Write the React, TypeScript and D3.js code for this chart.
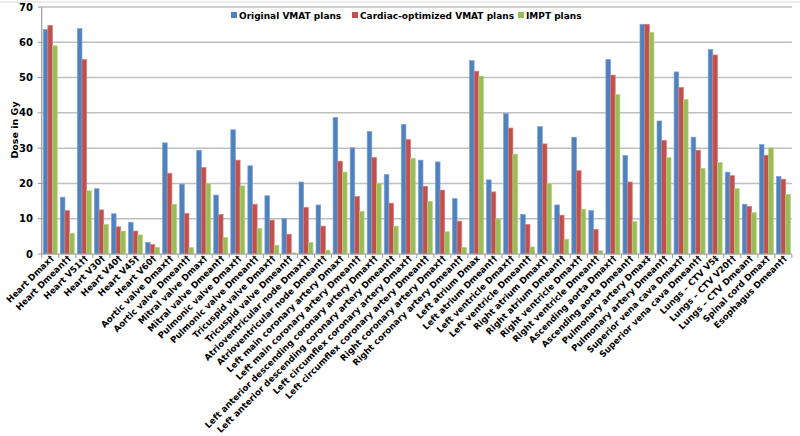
import React from "react";
import * as d3 from "d3";

const categories: string[] = [
  "Heart Dmax†", "Heart Dmean††", "Heart V51††", "Heart V30†", "Heart V40†", "Heart V45†", "Heart V60†",
  "Aortic valve Dmax††", "Aortic valve Dmean††", "Mitral valve Dmax†", "Mitral valve Dmean††",
  "Pulmonic valve Dmax††", "Pulmonic valve Dmean††", "Tricuspid valve Dmax††", "Tricuspid valve Dmean††",
  "Atrioventricular node Dmax††", "Atrioventricular node Dmean††",
  "Left main coronary artery Dmax†", "Left main coronary artery Dmean††",
  "Left anterior descending coronary artery Dmax††", "Left anterior descending coronary artery Dmean††",
  "Left circumflex coronary artery Dmax††", "Left circumflex coronary artery Dmean††",
  "Right coronary artery Dmax††", "Right coronary artery Dmean††",
  "Left atrium Dmax", "Left atrium Dmean††", "Left ventricle Dmax††", "Left ventricle Dmean††",
  "Right atrium Dmax††", "Right atrium Dmean††", "Right ventricle Dmax††", "Right ventricle Dmean††",
  "Ascending aorta Dmax††", "Ascending aorta Dmean††", "Pulmonary artery Dmax‡", "Pulmonary artery Dmean††",
  "Superior vena cava Dmax††", "Superior vena cava Dmean††",
  "Lungs – CTV V5‡", "Lungs – CTV V20††", "Lungs – CTV Dmean†", "Spinal cord Dmax†", "Esophagus Dmean††",
];

const originalVMAT: number[] = [
  63.6, 16.1, 63.9, 18.5, 11.4, 9.0, 3.3,
  31.5, 19.8, 29.4, 16.7,
  35.2, 25.0, 16.5, 10.1,
  20.4, 13.9,
  38.7, 30.1,
  34.7, 22.5,
  36.7, 26.6,
  26.1, 15.7,
  54.8, 21.0, 39.8, 11.2,
  36.1, 13.9, 33.1, 12.3,
  55.1, 27.9, 65.1, 37.7,
  51.6, 33.1,
  58.0, 23.2, 14.1, 31.0, 22.0,
];

const cardiacVMAT: number[] = [
  64.8, 12.3, 55.1, 12.5, 7.7, 6.5, 2.7,
  22.9, 11.5, 24.5, 11.2,
  26.6, 14.1, 9.6, 5.6,
  13.2, 7.9,
  26.3, 16.3,
  27.4, 14.4,
  32.4, 19.2,
  18.1, 9.3,
  51.8, 17.6, 35.7, 8.4,
  31.2, 11.0, 23.6, 7.0,
  50.7, 20.4, 65.1, 32.2,
  47.2, 29.4,
  56.4, 22.2, 13.5, 28.0, 21.2,
];

const imptPlans: number[] = [
  59.0, 5.9, 17.9, 8.4, 6.5, 5.4, 1.9,
  14.1, 1.8, 19.9, 4.7,
  19.3, 7.3, 2.5, 0.3,
  3.3, 1.1,
  23.2, 12.1,
  20.0, 7.9,
  27.1, 14.9,
  6.3, 1.9,
  50.4, 9.9, 28.3, 2.0,
  20.0, 4.2, 12.7, 0.9,
  45.2, 9.2, 62.8, 27.3,
  43.8, 24.3,
  25.9, 18.5, 11.7, 30.1, 16.9,
];

const seriesNames: string[] = ["Original VMAT plans", "Cardiac-optimized VMAT plans", "IMPT plans"];
const seriesValues: number[][] = [originalVMAT, cardiacVMAT, imptPlans];
const seriesColors: string[] = ["#4F81BD", "#C0504D", "#9BBB59"];
const seriesStroke: string[] = ["#7FA4D6", "#D47E7B", "#B6D07E"];
const yTicks: number[] = [0, 10, 20, 30, 40, 50, 60, 70];

const FONT = "'DejaVu Sans', Verdana, sans-serif";

export default function App() {
  const W = 800;
  const H = 436;
  const x0 = 41.7;
  const x1 = 791.9;
  const y = d3.scaleLinear().domain([0, 70]).range([254, 7]);
  const xg = d3.scaleBand<string>().domain(categories).range([x0, x1]).padding(0);
  const bw = xg.bandwidth();
  const xs = d3.scaleBand<number>().domain([0, 1, 2]).range([bw * 0.09, bw * 0.91]).padding(0);

  const legendItems = [
    { x: 231, name: seriesNames[0], color: seriesColors[0] },
    { x: 352, name: seriesNames[1], color: seriesColors[1] },
    { x: 518, name: seriesNames[2], color: seriesColors[2] },
  ];

  return (
    <svg width={W} height={H} style={{ position: "absolute", left: 0, top: 0, background: "#fff" }}>
      <line x1={0} x2={W} y1={2} y2={2} stroke="#D9D9D9" strokeWidth={1} />
      {yTicks.map((t) => (
        <g key={t}>
          {t > 0 && (
            <line x1={x0} x2={x1} y1={y(t)} y2={y(t)} stroke="#BFBFBF" strokeWidth={1.5} />
          )}
          <line x1={x0 - 4} x2={x0} y1={y(t)} y2={y(t)} stroke="#999" strokeWidth={1} />
          <text x={33} y={y(t) + 3.5} textAnchor="end" fontFamily={FONT} fontWeight="bold" fontSize={10} fill="#000">
            {t}
          </text>
        </g>
      ))}
      <text
        transform={`translate(18,130) rotate(-90)`}
        textAnchor="middle"
        fontFamily={FONT}
        fontWeight="bold"
        fontSize={9.5}
        fill="#000"
      >
        Dose in Gy
      </text>
      {categories.map((c, i) => (
        <g key={c} transform={`translate(${xg(c)},0)`}>
          {seriesValues.map((vals, s) => (
            <rect
              key={s}
              x={xs(s)}
              y={y(vals[i])}
              width={xs.bandwidth()}
              height={y(0) - y(vals[i])}
              fill={seriesColors[s]}
              stroke={seriesStroke[s]}
              strokeWidth={0.7}
            />
          ))}
        </g>
      ))}
      <line x1={x0} x2={x0} y1={y(70)} y2={y(0)} stroke="#999" strokeWidth={1.2} />
      <line x1={x0} x2={x1} y1={y(0)} y2={y(0)} stroke="#999" strokeWidth={1.2} />
      {categories.map((c, i) => (
        <line key={"t" + i} x1={xg(c)! + bw} x2={xg(c)! + bw} y1={y(0)} y2={y(0) + 4} stroke="#999" strokeWidth={1} />
      ))}
      <line x1={x0} x2={x0} y1={y(0)} y2={y(0) + 4} stroke="#999" strokeWidth={1} />
      {categories.map((c) => (
        <text
          key={"l" + c}
          transform={`translate(${xg(c)! + bw / 2 + 4},${259}) rotate(-45)`}
          textAnchor="end"
          fontFamily={FONT}
          fontWeight="bold"
          fontSize={8.7}
          fill="#000"
        >
          {c}
        </text>
      ))}
      {legendItems.map((it) => (
        <g key={it.name}>
          <rect x={it.x} y={12} width={6} height={6} fill={it.color} />
          <text x={it.x + 8} y={18.5} fontFamily={FONT} fontWeight="bold" fontSize={9} fill="#000">
            {it.name}
          </text>
        </g>
      ))}
    </svg>
  );
}
